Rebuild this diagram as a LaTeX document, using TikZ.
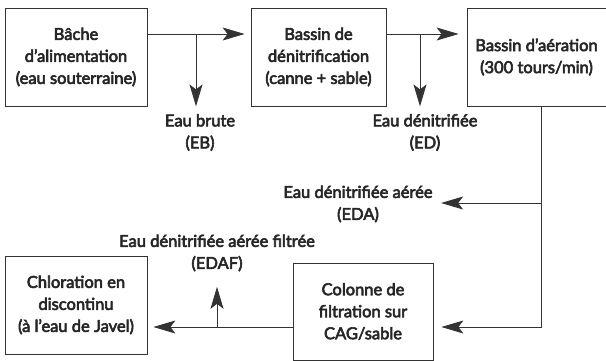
\documentclass[tikz,border=0pt]{standalone}
\usepackage{fontspec}
\setmainfont{Lato}
\newfontfamily\diagfont{Lato}[FakeBold=3.5]
\usetikzlibrary{arrows.meta}

\begin{document}
\begin{tikzpicture}[x=1pt,y=-1pt,
    box/.style={draw=black!80,line width=0.8pt,align=center,inner sep=0pt,
      font=\diagfont\fontsize{16.5}{22}\selectfont,text=black!85},
    lbl/.style={align=center,font=\diagfont\fontsize{16.5}{22}\selectfont,text=black!85},
    flow/.style={draw=black!80,line width=0.8pt,
      -{Stealth[length=22pt,width=13pt,inset=5pt]}}]
  \useasboundingbox (0,0) rectangle (606,360);
  % boxes (absolute positions, pixel grid)
  \node[box,minimum width=142pt,minimum height=98pt] at (76,57) (bache) {Bâche\\d’alimentation\\(eau souterraine)};
  \node[box,minimum width=135pt,minimum height=98pt] at (318.5,57) (denit) {Bassin de\\dénitrification\\(canne + sable)};
  \node[box,minimum width=139pt,minimum height=98pt] at (536.5,57) (aer) {Bassin d’aération\\(300 tours/min)};
  \node[box,minimum width=140pt,minimum height=97pt] at (363,311.5) (cag) {Colonne de\\filtration sur\\CAG/sable};
  \node[box,minimum width=142pt,minimum height=98pt] at (76,305) (chlor) {Chloration en\\discontinu\\(à l’eau de Javel)};
  % labels
  \node[lbl] at (200,132.5) (lEB) {Eau brute\\(EB)};
  \node[lbl] at (425,132.5) (lED) {Eau dénitrifiée\\(ED)};
  \node[lbl] at (358,204) (lEDA) {Eau dénitrifiée aérée\\(EDA)};
  \node[lbl] at (217,253) (lEDAF) {Eau dénitrifiée aérée filtrée\\(EDAF)};
  % branch points
  \coordinate (eb) at (196,34);
  \coordinate (ed) at (420,34);
  \coordinate (eda) at (541,203);
  \coordinate (turn) at (541,327);
  \coordinate (edaf) at (217,327);
  % main line
  \draw[flow,shorten >=6pt] ([yshift=23pt]bache.east) -- ([yshift=23pt]denit.west);
  \draw[flow,shorten >=8pt] ([yshift=23pt]denit.east) -- ([yshift=23pt]aer.west);
  \draw[flow] (eb) -- (eb |- bache.south);
  \draw[flow] (ed) -- (ed |- denit.south);
  \draw[flow,shorten >=8pt] (aer.south -| turn) -- (turn) -- (turn -| cag.east);
  \draw[flow,shorten >=5pt] (eda) -- (eda -| lEDA.east);
  \draw[flow,shorten >=6pt] (cag.west |- turn) -- (turn -| chlor.east);
  \draw[flow,shorten >=12pt] (edaf) -- (edaf |- lEDAF.south);
\end{tikzpicture}
\end{document}
